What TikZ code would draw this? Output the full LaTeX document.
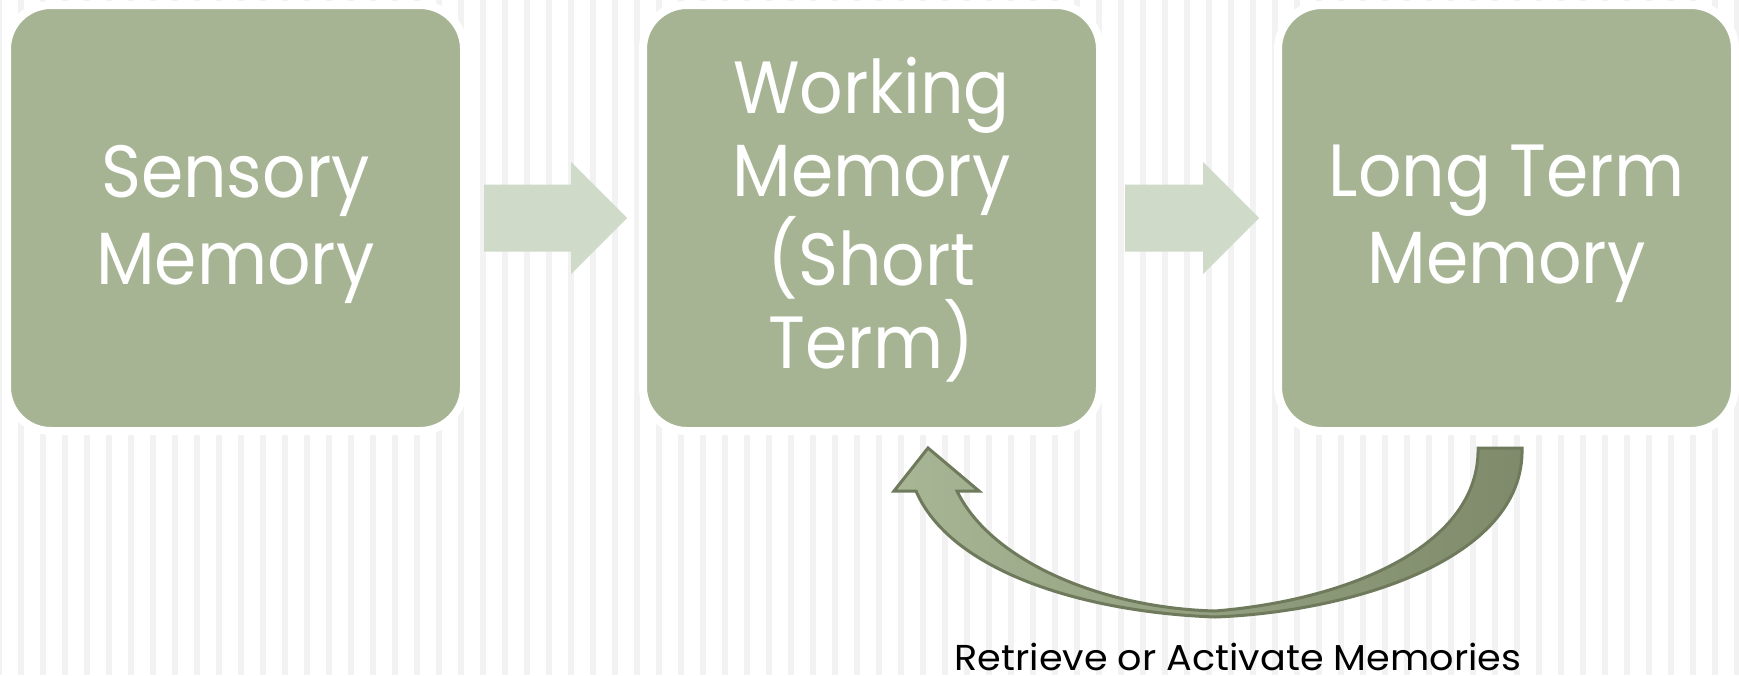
\documentclass[tikz,border=0pt]{standalone}
\usepackage{fontspec}
\setmainfont{Poppins}
\newfontfamily\boxfont{Poppins}[FakeStretch=0.92]
\newfontfamily\captionfont{Poppins}[FakeStretch=1.06]
\usetikzlibrary{calc}
\definecolor{boxgreen}{HTML}{A6B493}
\definecolor{arrowlight}{HTML}{D0DAC8}
\definecolor{stripegray}{HTML}{F2F2F2}
\definecolor{curvelight}{HTML}{A8B695}
\definecolor{curvedark}{HTML}{7E8A6A}
\definecolor{curveline}{HTML}{6E7A5B}

\begin{document}
\begin{tikzpicture}[x=1pt,y=-1pt,
  memorybox/.style={fill=boxgreen, draw=white, line width=8pt,
    rounded corners=44pt, minimum width=457pt, minimum height=426pt,
    inner sep=0pt, outer sep=0pt},
  boxtext/.style={text=white, align=center, inner sep=0pt,
    font=\boxfont\fontsize{74}{87}\selectfont},
  flowarrow/.style={fill=arrowlight},
  backarrow/.style={draw=curveline, line width=3pt,
    left color=curvelight, right color=curvedark},
  caption/.style={text=black, inner sep=0pt, anchor=base,
    font=\captionfont\fontsize{36}{40}\selectfont}]

% page and striped background
\useasboundingbox (0,0) rectangle (1739,675);
\fill[white] (0,0) rectangle (1739,675);
\begin{scope}
  \clip (0,0) rectangle (1739,675);
  \foreach \k in {-1,...,78}
    \fill[stripegray] ({18+22*\k},0) rectangle ++(6,675);
\end{scope}

% the three memory stores
\node[memorybox] (b1) at (235.5,218) {};
\node[memorybox] (b2) at (871.5,218) {};
\node[memorybox] (b3) at (1506.5,218) {};
\node[boxtext] (t1) at ($(b1.center)+(0,6)$) {Sensory\\Memory};
\node[boxtext, font=\boxfont\fontsize{74}{83}\selectfont] (t2) at ($(b2.center)+(0,2)$) {Working\\Memory\\(Short\\Term)};
\node[boxtext] (t3) at ($(b3.center)+(0,6)$) {Long Term\\Memory};

% block arrows between the stores
\coordinate (a1s) at ($(b1.east)+(20,0)$);
\coordinate (a1e) at ($(b2.west)+(-16,0)$);
\coordinate (a2s) at ($(b2.east)+(25,0)$);
\coordinate (a2e) at ($(b3.west)+(-19,0)$);
\foreach \s/\e in {a1s/a1e, a2s/a2e}
  \fill[flowarrow] ($(\s)+(0,-33.5)$) -- ($(\e)+(-56,-33.5)$)
    -- ($(\e)+(-56,-56)$) -- (\e) -- ($(\e)+(-56,56)$)
    -- ($(\e)+(-56,33.5)$) -- ($(\s)+(0,33.5)$) -- cycle;

% curved arrow from long term back to working memory
\coordinate (tip) at ($(b2.south)+(56.5,17)$);
\coordinate (tail) at ($(b3.south)+(-6.5,17)$);
\path[backarrow] ($(tail)+(22,0)$)
  .. controls ($(tail)+(25,112)$) and ($(tail)+(-150,164)$) .. ($(tip)+(287,169)$)
  .. controls ($(tip)+(152,164)$) and ($(tip)+(22,122)$) .. ($(tip)+(-12,43)$)
  -- ($(tip)+(-34,43)$) -- (tip) -- ($(tip)+(51,43)$) -- ($(tip)+(29,43)$)
  .. controls ($(tip)+(62,112)$) and ($(tip)+(172,160)$) .. ($(tip)+(287,163)$)
  .. controls ($(tail)+(-150,152)$) and ($(tail)+(-20,97)$) .. ($(tail)+(-22,0)$)
  -- cycle;

\node[caption] (lbl) at (1238,670) {Retrieve or Activate Memories};
\end{tikzpicture}
\end{document}
